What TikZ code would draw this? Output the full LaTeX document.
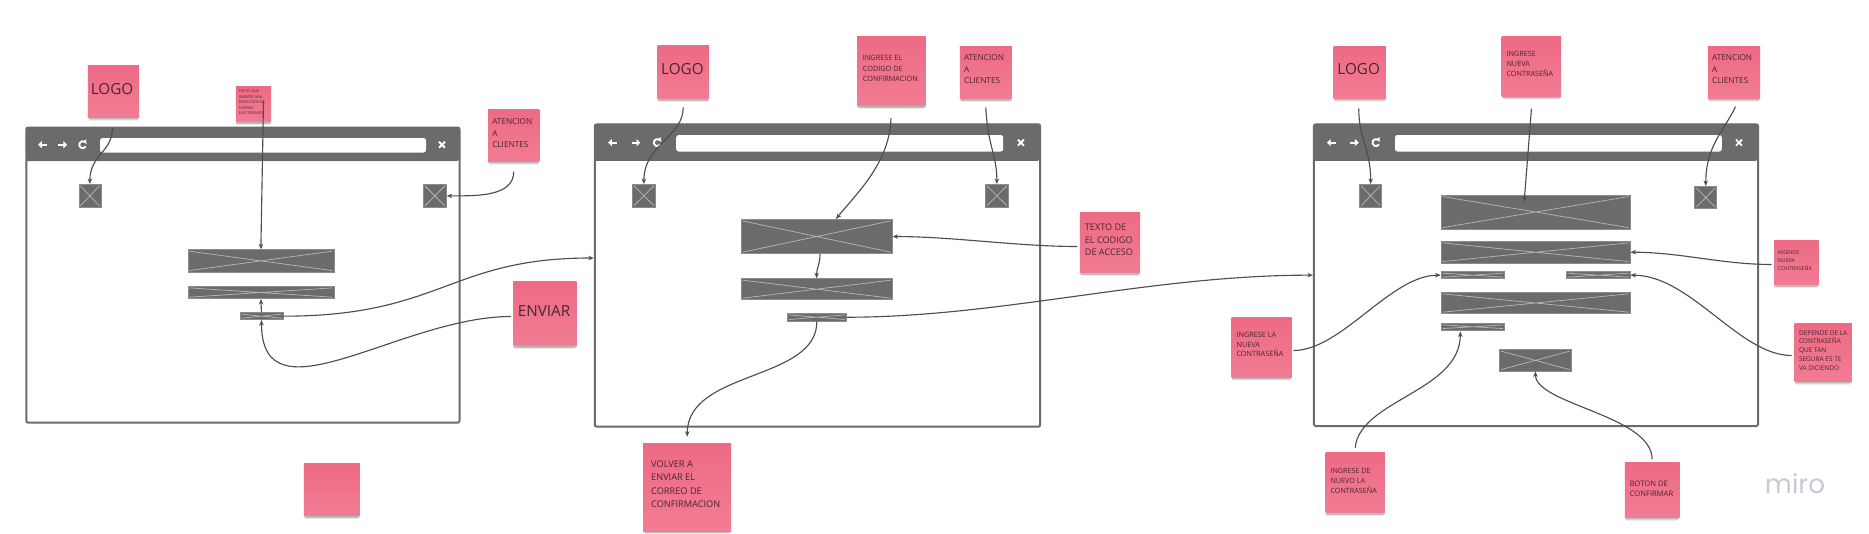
\documentclass[tikz,border=0pt]{standalone}
\usepackage{fontspec}
\setmainfont{Open Sans}
\newfontfamily\mirofont{Poppins}
\usetikzlibrary{calc,arrows.meta,shadows}
\definecolor{wire}{HTML}{6B6B6B}
\definecolor{phedge}{HTML}{8C8C8C}
\definecolor{phx}{HTML}{B4B4B4}
\definecolor{stA}{HTML}{EE6A85}
\definecolor{stB}{HTML}{F17C93}
\definecolor{stxt}{HTML}{4B2530}
\definecolor{conc}{HTML}{4D4D4D}
\definecolor{mirocol}{HTML}{C8C9D8}
\newcommand\fsz[2]{\fontsize{#1}{#2}\selectfont}
\tikzset{
  wh/.style 2 args={minimum width=#1*0.4pt,minimum height=#2*0.4pt},
  sticky/.style={inner sep=0,anchor=north west,top color=stA,bottom color=stB,draw=none,
    drop shadow={shadow xshift=0pt,shadow yshift=-2.0pt,opacity=.07,shadow scale=.95,fill=black},
    drop shadow={shadow xshift=0pt,shadow yshift=-1.4pt,opacity=.10,shadow scale=.97,fill=black},
    drop shadow={shadow xshift=0pt,shadow yshift=-0.8pt,opacity=.12,fill=black}},
  stt/.style={inner sep=0,text=stxt,align=left,anchor=west},
  big/.style={inner sep=0,text=stxt,anchor=center,font=\fsz{6.1}{7}},
  frame/.style={draw=wire,line width=0.8pt,fill=white,rounded corners=0.8pt,inner sep=0,anchor=north west},
  bar/.style={fill=wire,rounded corners=0.8pt,inner sep=0,anchor=north west},
  addr/.style={fill=white,rounded corners=1pt,inner sep=0,anchor=north west},
  ph/.style={fill=wire,draw=phedge,line width=0.3pt,inner sep=0,anchor=north west,
    path picture={\draw[phx,line width=0.3pt]
      ([shift={(0.6pt,-0.6pt)}]path picture bounding box.north west) -- ([shift={(-0.6pt,0.6pt)}]path picture bounding box.south east)
      ([shift={(0.6pt,0.6pt)}]path picture bounding box.south west) -- ([shift={(-0.6pt,-0.6pt)}]path picture bounding box.north east);}},
  con/.style={draw=conc,line width=0.45pt,-{Stealth[length=2.2pt,width=1.8pt]}},
  ico/.style={draw=white,line width=0.75pt},
  icoarr/.style={ico,-{Triangle[length=1.5pt,width=2.8pt]}},
  icoref/.style={ico,-{Triangle[length=1.1pt,width=2pt]}}
}
\begin{document}
\begin{tikzpicture}[x=0.4pt,y=-0.4pt]
\useasboundingbox (0,0) rectangle (1869,534);
\fill[white] (0,0) rectangle (1869,534);

% ---------------- windows ----------------
\node[frame,wh={433.2}{295.2}] (w1) at (25.3,126.5) {};
\node[bar,wh={433.2}{34}] (w1bar) at (25.3,126.5) {};
\node[addr,wh={326}{14.5}] (w1addr) at (99.5,137.5) {};
\node[frame,wh={445.4}{302.4}] (w2) at (593.8,123.3) {};
\node[bar,wh={445.4}{37}] (w2bar) at (593.8,123.3) {};
\node[addr,wh={327}{16.5}] (w2addr) at (675.7,134.5) {};
\node[frame,wh={444.2}{301.7}] (w3) at (1312.9,123.3) {};
\node[bar,wh={444.2}{37}] (w3bar) at (1312.9,123.3) {};
\node[addr,wh={326.8}{16.5}] (w3addr) at (1394.5,134.5) {};

% browser icons
\foreach \xa/\xb/\xc/\xd/\yy in {42.9/62.4/82.7/442/144.7, 612.9/635.5/657.3/1020.9/142.6, 1331.7/1353.9/1376/1739/142.6}{
  \draw[icoarr] (\xa+4,\yy) -- (\xa-4.8,\yy);
  \draw[icoarr] (\xb-4,\yy) -- (\xb+4.8,\yy);
  \draw[icoref] (\xc+3.03,\yy+1.75) arc[start angle=30,end angle=330,radius=3.5];
  \draw[ico] (\xd-3,\yy-3) -- (\xd+3,\yy+3) (\xd-3,\yy+3) -- (\xd+3,\yy-3);
}

% placeholders window 1
\node[ph,wh={22}{23}] (w1sqL) at (78.5,184) {};
\node[ph,wh={23}{23}] (w1sqR) at (423,184) {};
\node[ph,wh={146}{22.4}] (w1r1) at (187.5,249.3) {};
\node[ph,wh={146}{12.3}] (w1r2) at (187.5,286) {};
\node[ph,wh={43}{7}] (w1btn) at (239.6,312.3) {};
% placeholders window 2
\node[ph,wh={23}{22.7}] (w2sqL) at (632,184) {};
\node[ph,wh={23}{22.7}] (w2sqR) at (985,184) {};
\node[ph,wh={151.2}{34.3}] (w2r1) at (740.7,219) {};
\node[ph,wh={151.2}{21}] (w2r2) at (740.7,278.3) {};
\node[ph,wh={59}{7.7}] (w2btn) at (787,313) {};
% placeholders window 3
\node[ph,wh={21.8}{22.7}] (w3sqL) at (1359.4,184) {};
\node[ph,wh={22}{22.3}] (w3sqR) at (1694.4,186) {};
\node[ph,wh={189}{34}] (w3a) at (1440.7,194.7) {};
\node[ph,wh={189}{21.7}] (w3b) at (1440.7,241) {};
\node[ph,wh={63.5}{7}] (w3c1) at (1440.7,271.3) {};
\node[ph,wh={63.9}{7}] (w3c2) at (1565.8,271.3) {};
\node[ph,wh={189}{21.3}] (w3d) at (1440.7,292) {};
\node[ph,wh={63.5}{6.7}] (w3e) at (1440.7,323) {};
\node[ph,wh={71.3}{21.4}] (w3f) at (1499.4,349.3) {};

% ---------------- stickies ----------------
\node[sticky,wh={51.2}{51.7}] (s1) at (87.3,65) {};
\node[sticky,wh={35.2}{35.3}] (s2) at (235.4,85.7) {};
\node[sticky,wh={51.2}{51.7}] (s3) at (487.6,109) {};
\node[sticky,wh={63.2}{64}] (s4) at (512.8,281) {};
\node[sticky,wh={56}{51.7}] (s5) at (303.3,463.3) {};
\node[sticky,wh={51.7}{53.3}] (s6) at (656.9,45) {};
\node[sticky,wh={68.5}{69}] (s7) at (856.7,36) {};
\node[sticky,wh={52}{52.6}] (s8) at (959.3,45.7) {};
\node[sticky,wh={60.1}{60.6}] (s9) at (1079.4,211.7) {};
\node[sticky,wh={88}{88}] (s10) at (642.7,442.7) {};
\node[sticky,wh={52.1}{52}] (s11) at (1333.2,45.7) {};
\node[sticky,wh={59.5}{59.7}] (s12) at (1501.2,36) {};
\node[sticky,wh={52.4}{52}] (s13) at (1707.3,45.7) {};
\node[sticky,wh={44.3}{44}] (s14) at (1773.7,240) {};
\node[sticky,wh={57.3}{57.4}] (s15) at (1794,323.3) {};
\node[sticky,wh={60}{60}] (s16) at (1231,316.7) {};
\node[sticky,wh={59.3}{60.6}] (s17) at (1325,451.7) {};
\node[sticky,wh={54.7}{54.4}] (s18) at (1624.3,462.3) {};

% sticky texts
\node[big] (s1t) at (112,89) {LOGO};
\node[stt,font=\fsz{1.52}{2.24}] (s2t) at (238.4,102.3) {TEXTO QUE\\INSERTE UNA\\DIRECCION DE\\CORREO\\ELECTRONICO};
\node[stt,font=\fsz{3.28}{4.6}] (s3t) at (491.8,133.5) {ATENCION\\A\\CLIENTES};
\node[big] (s4t) at (544,310.7) {ENVIAR};
\node[big] (s6t) at (682.4,69.3) {LOGO};
\node[stt,font=\fsz{2.92}{4.2}] (s7t) at (862.4,68.8) {INGRESE EL\\CODIGO DE\\CONFIRMACION};
\node[stt,font=\fsz{3.28}{4.6}] (s8t) at (963.5,69.5) {ATENCION\\A\\CLIENTES};
\node[stt,font=\fsz{3.64}{5.0}] (s9t) at (1084.4,239.8) {TEXTO DE\\EL CODIGO\\DE ACCESO};
\node[stt,font=\fsz{3.68}{5.32}] (s10t) at (650.7,484.3) {VOLVER A\\ENVIAR EL\\CORREO DE\\CONFIRMACION};
\node[big] (s11t) at (1358.7,69.3) {LOGO};
\node[stt,font=\fsz{2.9}{4.0}] (s12t) at (1506,64.3) {INGRESE\\NUEVA\\CONTRASEÑA};
\node[stt,font=\fsz{3.28}{4.6}] (s13t) at (1711.7,69.3) {ATENCION\\A\\CLIENTES};
\node[stt,font=\fsz{2.12}{3.12}] (s14t) at (1777.4,260.5) {INGRESE\\NUEVA\\CONTRASEÑA};
\node[stt,font=\fsz{2.6}{3.5}] (s15t) at (1798.5,350.2) {DEPENDE DE LA\\CONTRASEÑA\\QUE TAN\\SEGURA ES TE\\VA DICIENDO};
\node[stt,font=\fsz{2.92}{3.92}] (s16t) at (1236,344.5) {INGRESE LA\\NUEVA\\CONTRASEÑA};
\node[stt,font=\fsz{2.88}{4.0}] (s17t) at (1330,480.7) {INGRESE DE\\NUEVO LA\\CONTRASEÑA};
\node[stt,font=\fsz{3.04}{4.0}] (s18t) at (1629.3,488.3) {BOTON DE\\CONFIRMAR};

% miro logo
\node[inner sep=0,anchor=base,text=mirocol,font=\mirofont\fsz{10.5}{12}] (miro) at (1795,493) {miro};

% ---------------- connectors ----------------
% window 1
\draw[con] ($(s1.south)+(-1,10)$) .. controls +(0,25) and +(0,-30) .. (w1sqL.north);
\draw[con] ($(s2.center)+(10,-3)$) -- (w1r1.north);
\draw[con] ($(s3.south)+(0,10)$) .. controls +(0,25) and +(30,0) .. (w1sqR.east);
\draw[con] (w1btn.east) .. controls +(158,0) and +(-144,0) .. ($(w2.west)+(0,-17.5)$);
\draw[con] ($(s4.west)+(-2,3)$) .. controls +(-110,0) and +(0,105) .. (w1btn.south);
\draw[con] (w1btn.north) -- (w1r2.south);
% window 2
\draw[con] ($(s6.south)+(0,8)$) .. controls +(0,30) and +(0,-40) .. (w2sqL.north);
\draw[con] ($(s7.south)+(-0.5,12)$) .. controls +(-1,45) and +(20,-25) .. ($(w2r1.north)+(19.3,0)$);
\draw[con] ($(s8.south)+(0,8)$) .. controls +(2,40) and +(0,-30) .. (w2sqR.north);
\draw[con] ($(s9.west)+(-2,4)$) .. controls +(-60,0) and +(60,0) .. (w2r1.east);
\draw[con] ($(w2r1.south)+(3.3,0)$) .. controls +(0,12) and +(0,-12) .. (w2r2.north);
\draw[con] (w2btn.east) .. controls +(154,0) and +(-163,0) .. (w3.west);
\draw[con] (w2btn.south) .. controls +(0,60) and +(0,-67) .. ($(s10.north)+(0,-6)$);
% window 3
\draw[con] ($(s11.south)+(-1,10)$) .. controls +(0,30) and +(0,-35) .. (w3sqL.north);
\draw[con] ($(s12.south)+(0,12)$) -- ($(w3a.north)+(-11.4,7)$);
\draw[con] ($(s13.south)+(1.5,8)$) .. controls +(-12,25) and +(0,-40) .. (w3sqR.north);
\draw[con] ($(s14.west)+(-2,2)$) .. controls +(-50,0) and +(50,0) .. (w3b.east);
\draw[con] ($(s15.west)+(-2.5,3)$) .. controls +(-52,0) and +(60,0) .. (w3c2.east);
\draw[con] ($(s16.east)+(1.5,3.3)$) .. controls +(48,0) and +(-50,0) .. (w3c1.west);
\draw[con] ($(s17.north)+(0,-4)$) .. controls +(5,-48) and +(0,60) .. ($(w3e.south)+(-12.5,1)$);
\draw[con] ($(s18.north)+(0,-3)$) .. controls +(0,-44) and +(0,33) .. (w3f.south);
\end{tikzpicture}
\end{document}
